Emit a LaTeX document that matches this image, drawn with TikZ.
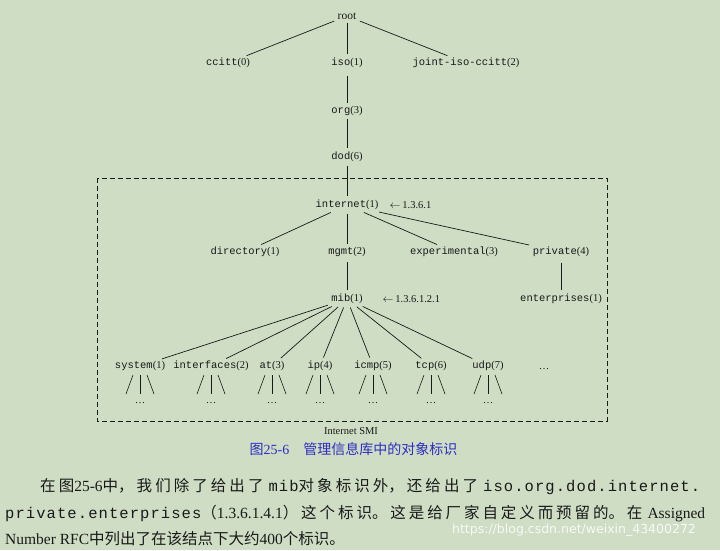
\documentclass[tikz,border=0pt]{standalone}
\usepackage{fontspec}
\setmainfont{Liberation Serif}
\setmonofont{Liberation Mono}
\newfontfamily\cjk{Noto Sans CJK SC}
\newfontfamily\bodytt[LetterSpace=7]{Liberation Mono}
\newfontfamily\wmfont{DejaVu Sans}
\newcommand\oid[2]{\texttt{#1}(#2)}
\newcommand\bodyline[2]{\parbox[t]{#1}{\fontsize{15.5}{18}\selectfont
  \XeTeXlinebreaklocale "zh"\XeTeXlinebreakskip=0pt plus 5pt
  \parfillskip=0pt\noindent #2}}
\definecolor{paper}{RGB}{206,221,196}
\definecolor{capblue}{RGB}{45,45,195}
\definecolor{ink}{RGB}{25,25,25}
\tikzset{
  oid/.style={inner sep=1.5pt, text=ink, font=\fontsize{10.5}{12}\selectfont},
  link/.style={draw=ink, line width=0.7pt, shorten <=2pt, shorten >=2pt},
}
\begin{document}
\begin{tikzpicture}[x=1pt,y=-1pt]
\fill[paper] (0,0) rectangle (720,550);
% top of the tree
\node[oid, font=\fontsize{11.5}{12}\selectfont] (root) at (347,16) {root};
\node[oid] (ccitt) at (228,63) {\oid{ccitt}{0}};
\node[oid] (iso) at (347,63) {\oid{iso}{1}};
\node[oid] (joint) at (466,63) {\oid{joint-iso-ccitt}{2}};
\node[oid] (org) at (347,111) {\oid{org}{3}};
\node[oid] (dod) at (347,157) {\oid{dod}{6}};
\foreach\c in {ccitt, iso, joint} \draw[link] (root) -- (\c);
\draw[link, shorten <=6pt] (iso) -- (org);
\draw[link] (org) -- (dod);
% Internet SMI
\draw[ink, line width=0.7pt, dash pattern=on 5pt off 3pt] (97,178) rectangle (607,421);
\node[oid] (smi) at (351,431) {Internet SMI};
\node[oid] (internet) at (347,205) {\oid{internet}{1}};
\node[oid, anchor=west] (num1) at (388,205) {$\leftarrow$\,1.3.6.1};
\draw[link] (dod) -- (internet);
\node[oid] (directory) at (245,252) {\oid{directory}{1}};
\node[oid] (mgmt) at (347,252) {\oid{mgmt}{2}};
\node[oid] (experimental) at (454,252) {\oid{experimental}{3}};
\node[oid] (private) at (561,252) {\oid{private}{4}};
\foreach\c in {directory, mgmt, experimental, private} \draw[link] (internet) -- (\c);
\node[oid] (mib) at (347,299) {\oid{mib}{1}};
\node[oid, anchor=west] (num2) at (381,299) {$\leftarrow$\,1.3.6.1.2.1};
\node[oid] (enterprises) at (561,299) {\oid{enterprises}{1}};
\draw[link, shorten <=4pt] (mgmt) -- (mib);
\draw[link, shorten <=4pt] (private) -- (enterprises);
% mib groups
\node[oid] (system) at (140,366) {\oid{system}{1}};
\node[oid] (interfaces) at (211,366) {\oid{interfaces}{2}};
\node[oid] (at) at (272,366) {\oid{at}{3}};
\node[oid] (ip) at (320,366) {\oid{ip}{4}};
\node[oid] (icmp) at (373,366) {\oid{icmp}{5}};
\node[oid] (tcp) at (431,366) {\oid{tcp}{6}};
\node[oid] (udp) at (488,366) {\oid{udp}{7}};
\node[oid, anchor=base] (more) at (544,369) {\dots};
\foreach\c in {system, interfaces, at, ip, icmp, tcp, udp}
 {\draw[link] (mib) -- (\c);
  \draw[ink, line width=0.6pt] ([shift={(-7,9)}]\c.center) -- +(-7,19);
  \draw[ink, line width=0.6pt] ([shift={(0,9)}]\c.center) -- +(0,19);
  \draw[ink, line width=0.6pt] ([shift={(7,9)}]\c.center) -- +(7,19);
  \node[oid, anchor=base] (\c-more) at ([shift={(0,37)}]\c.center) {\dots};};
% caption and text
\node[text=capblue, inner sep=0, font=\fontsize{14}{16}\selectfont] (caption) at (353.5,449)
  {{\cjk 图}25-6\hspace{14pt}{\cjk 管理信息库中的对象标识}};
\node[anchor=base west, inner sep=0, text=ink] (line1) at (40,491) {\bodyline{660pt}{%
  {\cjk 在图}25-6{\cjk 中，我们除了给出了} {\bodytt mib}{\cjk 对象标识外，还给出了} {\bodytt iso.org.dod.internet.}}};
\node[anchor=base west, inner sep=0, text=ink] (line2) at (5,518) {\bodyline{700pt}{%
  {\bodytt private.enterprises}{\cjk （}1.3.6.1.4.1{\cjk ）这个标识。这是给厂家自定义而预留的。在} Assigned}};
\node[anchor=base west, inner sep=0, text=ink, font=\fontsize{15.5}{18}\selectfont] (line3) at (5,544)
  {Number RFC{\cjk 中列出了在该结点下大约}400{\cjk 个标识。}};
\node[text=white, opacity=0.85, inner sep=0, font=\wmfont\fontsize{12.5}{14}\selectfont] (mark) at (574,530)
  {https://blog.csdn.net/weixin\_43400272};
\end{tikzpicture}
\end{document}
